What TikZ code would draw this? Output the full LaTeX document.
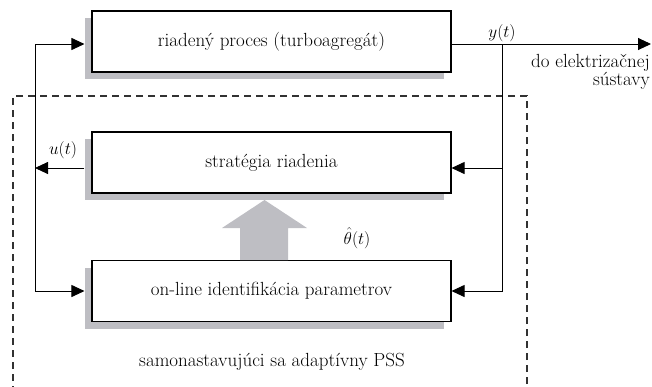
\documentclass[tikz,border=0pt]{standalone}
\usetikzlibrary{arrows.meta,shadows}
\definecolor{shadowgray}{RGB}{190,190,195}
\definecolor{dashgray}{RGB}{50,50,50}
\tikzset{
  blok/.style={draw, line width=1.1pt, fill=white, minimum width=359pt, minimum height=61pt,
    inner sep=0pt, copy shadow={fill=shadowgray, draw=none, shadow xshift=-7pt, shadow yshift=-7pt}},
  sig/.style={line width=0.9pt, -{Triangle[length=13pt,width=12pt]}},
  vedenie/.style={line width=0.9pt},
}
\begin{document}
\begin{tikzpicture}[x=1pt, y=-1pt, font=\fontsize{19}{21}\selectfont]
    \clip (0,0) rectangle (652,386);

    % ===== ohraničenie adaptívneho PSS =====
    \draw[dashgray, line width=1.1pt, dash pattern=on 7pt off 5pt] (527,420) -- (527,96) -- (13,96) -- (13,420);
    \node (pss) at (272,362) {samonastavujúci sa adaptívny PSS};

    % ===== bloky =====
    \node[blok] (proc) at (271.5,41.5) {riadený proces (turboagregát)};
    \node[blok] (strat) at (271.5,162.5) {stratégia riadenia};
    \node[blok] (ident) at (271.5,291) {on-line identifikácia parametrov};

    % odhad parametrov (široká šípka)
    \fill[shadowgray] (240,260) -- (240,228) -- (222,228) -- (264.5,200) -- (307,228) -- (288,228) -- (288,260) -- cycle;
    \node (theta) at (357,238) {$\hat{\theta}(t)$};

    % ===== uzly vedení =====
    \coordinate (yj) at (502,44);
    \coordinate (uj) at (35,168);
    \coordinate (out) at (651,44);

    % výstup y(t)
    \draw[vedenie] (proc.east |- yj) -- (yj);
    \draw[sig] (yj) -- (out);
    \node[above, inner sep=2pt] (ylab) at (yj) {$y(t)$};
    \node[anchor=north east, align=right, inner sep=0pt] (grid) at (650,54)
        {do elektrizačnej\\[-3pt] sústavy};
    \draw[sig] (yj) |- (strat.east |- uj);
    \draw[sig] (yj) |- (ident.east);

    % akčný zásah u(t)
    \draw[sig, shorten <=7pt] (strat.west |- uj) -- (uj);
    \node[above, inner sep=3pt] (ulab) at (63,162) {$u(t)$};
    \draw[sig, shorten >=7pt] (uj) |- (proc.west |- yj);
    \draw[sig, shorten >=7pt] (uj) |- (ident.west);
\end{tikzpicture}
\end{document}
